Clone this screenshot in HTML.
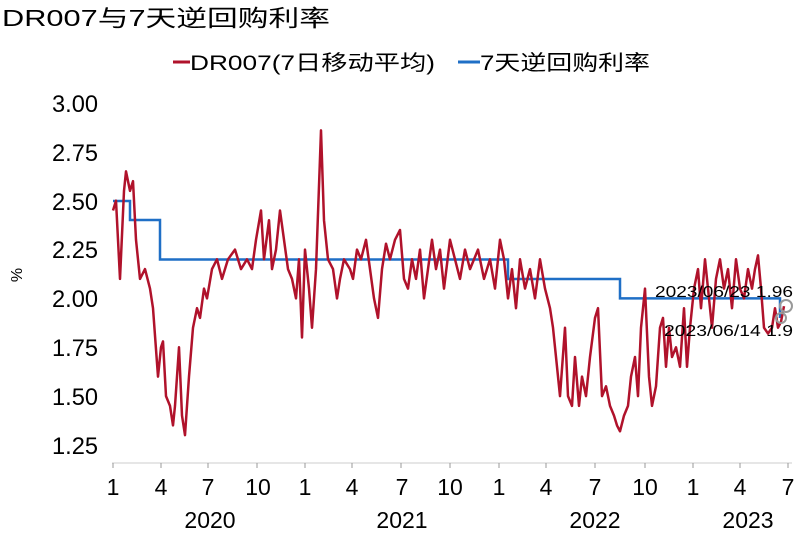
<!DOCTYPE html>
<html><head><meta charset="utf-8"><style>
body{margin:0;background:#fff;width:800px;height:532px;overflow:hidden}
svg text{font-family:"Liberation Sans","Noto Sans CJK SC",sans-serif}
</style></head><body>
<svg width="800" height="532" viewBox="0 0 800 532" xmlns="http://www.w3.org/2000/svg">
<text x="2" y="26" font-size="23" textLength="328" lengthAdjust="spacingAndGlyphs" fill="#000">DR007与7天逆回购利率</text>
<line x1="173" y1="62" x2="190" y2="62" stroke="#b0122b" stroke-width="3"/>
<text x="190" y="70" font-size="21" textLength="245" lengthAdjust="spacingAndGlyphs">DR007(7日移动平均)</text>
<line x1="458" y1="62" x2="480" y2="62" stroke="#1f6fc6" stroke-width="3"/>
<text x="480" y="70" font-size="21" textLength="170" lengthAdjust="spacingAndGlyphs">7天逆回购利率</text>
<g font-size="24" text-anchor="end" fill="#000">
<text x="98" y="112" textLength="46" lengthAdjust="spacingAndGlyphs">3.00</text><text x="98" y="161" textLength="46" lengthAdjust="spacingAndGlyphs">2.75</text><text x="98" y="210" textLength="46" lengthAdjust="spacingAndGlyphs">2.50</text><text x="98" y="258" textLength="46" lengthAdjust="spacingAndGlyphs">2.25</text><text x="98" y="307" textLength="46" lengthAdjust="spacingAndGlyphs">2.00</text><text x="98" y="356" textLength="46" lengthAdjust="spacingAndGlyphs">1.75</text><text x="98" y="405" textLength="46" lengthAdjust="spacingAndGlyphs">1.50</text><text x="98" y="454" textLength="46" lengthAdjust="spacingAndGlyphs">1.25</text>
</g>
<text transform="translate(22,275) rotate(-90)" font-size="16" text-anchor="middle">%</text>
<line x1="112" y1="463" x2="792" y2="463" stroke="#ccc" stroke-width="1"/>
<g stroke="#999" stroke-width="1">
<line x1="113" y1="463" x2="113" y2="468"/><line x1="161" y1="463" x2="161" y2="468"/><line x1="208" y1="463" x2="208" y2="468"/><line x1="257" y1="463" x2="257" y2="468"/><line x1="305" y1="463" x2="305" y2="468"/><line x1="352" y1="463" x2="352" y2="468"/><line x1="401" y1="463" x2="401" y2="468"/><line x1="450" y1="463" x2="450" y2="468"/><line x1="499" y1="463" x2="499" y2="468"/><line x1="546" y1="463" x2="546" y2="468"/><line x1="595" y1="463" x2="595" y2="468"/><line x1="645" y1="463" x2="645" y2="468"/><line x1="693" y1="463" x2="693" y2="468"/><line x1="740" y1="463" x2="740" y2="468"/><line x1="788" y1="463" x2="788" y2="468"/>
</g>
<g font-size="23" text-anchor="middle">
<text x="113" y="495">1</text><text x="161" y="495">4</text><text x="208" y="495">7</text><text x="258" y="495">10</text><text x="305" y="495">1</text><text x="352" y="495">4</text><text x="402" y="495">7</text><text x="450" y="495">10</text><text x="499" y="495">1</text><text x="546" y="495">4</text><text x="595" y="495">7</text><text x="645" y="495">10</text><text x="693" y="495">1</text><text x="740" y="495">4</text><text x="788" y="495">7</text>
<text x="210" y="528">2020</text><text x="402" y="528">2021</text><text x="595" y="528">2022</text><text x="748" y="528">2023</text>
</g>
<polyline fill="none" stroke="#1f6fc6" stroke-width="2.5" points="113,201 130,201 130,220 160,220 160,259.5 508,259.5 508,279 620,279 620,298.4 780,298.4 780,318"/>
<polyline id="r" fill="none" stroke="#b0122b" stroke-width="2.5" stroke-linejoin="round" points=""/>
<circle cx="786" cy="306" r="6" fill="none" stroke="#999" stroke-width="2"/>
<circle cx="781" cy="318" r="5" fill="none" stroke="#999" stroke-width="2"/>
<text x="655" y="297" font-size="16" textLength="138" lengthAdjust="spacingAndGlyphs">2023/06/23 1.96</text>
<text x="664" y="336" font-size="16" textLength="129" lengthAdjust="spacingAndGlyphs">2023/06/14 1.9</text>
</svg>
<script>
var d=[113,2.45,116,2.5,120,2.1,124,2.55,126,2.65,130,2.55,133,2.6,136,2.3,140,2.1,145,2.15,150,2.05,153,1.95,158,1.6,161,1.75,163,1.78,166,1.5,170,1.45,173,1.35,175,1.45,179,1.75,182,1.4,185,1.3,189,1.6,193,1.85,197,1.95,200,1.9,204,2.05,207,2.0,212,2.15,217,2.2,222,2.1,228,2.2,235,2.25,241,2.15,247,2.2,252,2.15,256,2.3,261,2.45,264,2.2,269,2.4,272,2.15,276,2.25,280,2.45,284,2.3,288,2.15,292,2.1,296,2.0,299,2.2,302,1.8,305,2.25,309,2.05,312,1.85,316,2.15,321,2.86,324,2.4,328,2.2,333,2.15,337,2.0,340,2.1,344,2.2,350,2.15,353,2.1,357,2.25,361,2.2,366,2.3,370,2.15,374,2.0,378,1.9,382,2.15,386,2.28,390,2.2,395,2.3,400,2.35,404,2.1,408,2.05,412,2.2,416,2.1,420,2.25,424,2.0,428,2.15,432,2.3,436,2.15,440,2.25,444,2.05,450,2.3,455,2.2,460,2.1,465,2.25,470,2.15,478,2.25,484,2.1,490,2.2,495,2.05,500,2.3,504,2.2,508,2.0,512,2.15,516,1.95,520,2.2,525,2.05,530,2.15,535,2.0,540,2.2,545,2.05,550,1.95,553,1.85,557,1.65,560,1.5,565,1.85,568,1.5,572,1.45,575,1.7,579,1.45,582,1.6,586,1.5,590,1.7,595,1.9,598,1.95,602,1.5,606,1.55,610,1.45,614,1.4,617,1.35,620,1.32,624,1.4,628,1.45,631,1.6,635,1.7,638,1.5,641,1.85,645,2.05,649,1.6,652,1.45,656,1.55,660,1.85,663,1.9,666,1.65,669,1.85,672,1.7,676,1.75,680,1.65,684,1.95,687,1.65,690,1.85,694,2.05,698,2.15,701,1.95,705,2.2,709,2.0,712,1.85,716,2.1,720,2.2,724,2.05,728,2.15,732,1.95,736,2.2,740,2.05,744,2.0,748,2.15,752,2.05,755,2.15,758,2.22,761,2.05,764,1.85,768,1.82,772,1.85,775,1.95,778,1.85,781,1.88,784,1.96];
var p=[];for(var i=0;i<d.length;i+=2)p.push(d[i]+","+(103+(3-d[i+1])*195.4).toFixed(1));
document.getElementById("r").setAttribute("points",p.join(" "));
</script>
</body></html>
